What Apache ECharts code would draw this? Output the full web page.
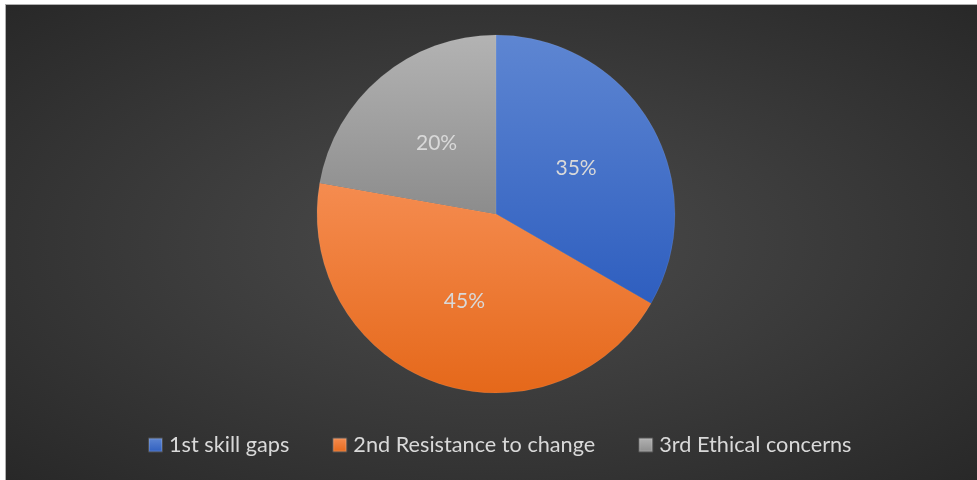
<!DOCTYPE html>
<html>
<head>
<meta charset="utf-8">
<script src="https://cdn.jsdelivr.net/npm/echarts@6/dist/echarts.min.js"></script>
<style>
html,body{margin:0;padding:0;background:#ffffff;width:977px;height:480px;overflow:hidden;}
#frame{position:absolute;left:5px;top:4px;width:972px;height:476px;border-top:1px solid #b0b0b0;border-left:1px solid #b0b0b0;box-sizing:border-box;
background:radial-gradient(ellipse at 50% 50%, #4c4c4c 0%, #3c3c3c 45%, #282828 100%);}
#chart{position:absolute;left:0;top:0;width:100%;height:100%;}
</style>
</head>
<body>
<div id="frame"><div id="chart"></div></div>
<script>
const categories = ['1st skill gaps', '2nd Resistance to change', '3rd Ethical concerns'];
// slice sizes as drawn (angles: ~120°, ~159°, ~81°)
const sliceValues = [15, 20, 10];
// data label texts as printed on the slices
const labelTexts = ['35%', '45%', '20%'];

// styling (not data)
const colorsTop = ['#5e86d2', '#f58c50', '#b3b3b3'];
const colorsBottom = ['#2e5ebf', '#e5681a', '#8c8c8c'];

const grad = i => ({
  type: 'linear', x: 0, y: 0, x2: 0, y2: 1, global: false,
  colorStops: [{offset: 0, color: colorsTop[i]}, {offset: 1, color: colorsBottom[i]}]
});

const chart = echarts.init(document.getElementById('chart'), null, {renderer: 'canvas'});
const data = categories.map((c, i) => ({
  name: c,
  value: sliceValues[i],
  itemStyle: {color: grad(i)}
}));
chart.setOption({
  backgroundColor: 'transparent',
  animation: false,
  legend: {
    top: 424,
    left: 137,
    itemWidth: 13,
    itemHeight: 13,
    itemGap: 43,
    icon: 'rect',
    textStyle: {color: '#d9d9d9', fontSize: 21.7, fontFamily: 'Lato', padding: [0, 0, 0, 2]},
    data: categories.map((c, i) => ({name: c, itemStyle: {color: grad(i)}}))
  },
  series: [{
    type: 'pie',
    center: [490, 209],
    radius: [0, 179],
    startAngle: 90,
    clockwise: true,
    itemStyle: {borderColor: 'rgba(255,255,255,0.15)', borderWidth: 0.5},
    label: {
      show: true,
      position: 'inside',
      formatter: p => labelTexts[p.dataIndex],
      color: '#d9d9d9',
      fontSize: 21,
      fontFamily: 'Lato'
    },
    labelLine: {show: false},
    emphasis: {disabled: true},
    data: data
  }]
});
</script>
</body>
</html>
